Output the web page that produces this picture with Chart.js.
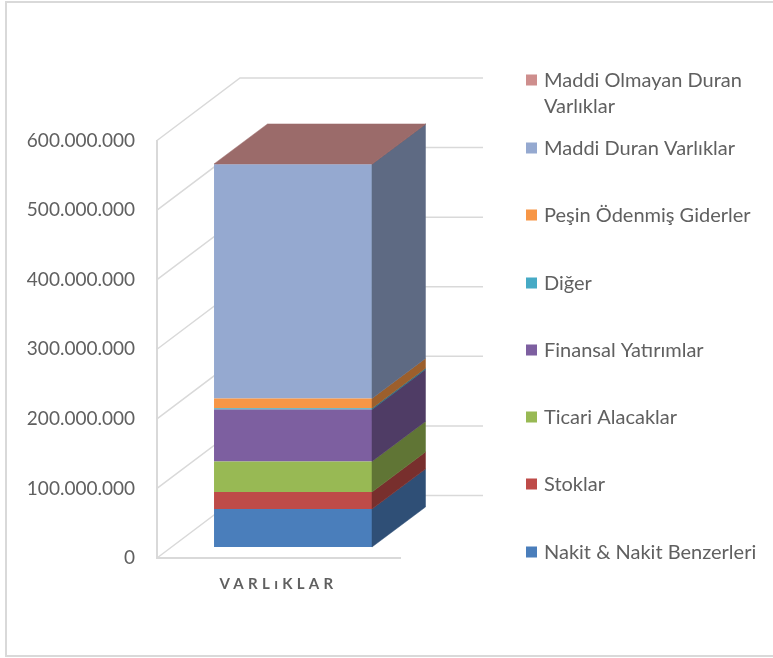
<!DOCTYPE html>
<html>
<head>
<meta charset="utf-8">
<title>Varlıklar</title>
<script src="https://cdn.jsdelivr.net/npm/chart.js@4/dist/chart.umd.min.js"></script>
<style>
    html, body { margin: 0; padding: 0; background: #fff; }
    #wrap { width: 773px; height: 658px; }
</style>
</head>
<body>
<div id="wrap"><canvas id="chart" width="773" height="658"></canvas></div>
<script>
const categories = ["VARLıKLAR"];
const seriesNames = ["Nakit & Nakit Benzerleri", "Stoklar", "Ticari Alacaklar", "Finansal Yatırımlar", "Diğer", "Peşin Ödenmiş Giderler", "Maddi Duran Varlıklar", "Maddi Olmayan Duran Varlıklar"];
const nakit = [54500000];
const stoklar = [24500000];
const ticari = [44000000];
const finansal = [74500000];
const diger = [2000000];
const pesin = [14000000];
const maddi = [336500000];
const maddiOlmayan = [500000];
const seriesValues = [nakit, stoklar, ticari, finansal, diger, pesin, maddi, maddiOlmayan];
const seriesColors = ["#4a7ebb", "#be4b48", "#98b954", "#7d5fa0", "#46aac5", "#f79646", "#95a9d0", "#ce8e8d"];

//coulers and 3d depth
const textColor = "#606060";
const wallColor = "#d9d9d9";
const wallDepth = { x: 83, y: -62.5 };
const barShift = { x: 14.5, y: -11 };
const barDepth = { x: 53.5, y: -40 };

function shade(hex, f) {
    const n = parseInt(hex.slice(1), 16);
    const r = Math.round((n >> 16) * f);
    const g = Math.round(((n >> 8) & 255) * f);
    const b = Math.round((n & 255) * f);
    return "rgb(" + r + "," + g + "," + b + ")";
}

function poly(ctx, pts, color) {
    ctx.beginPath();
    ctx.moveTo(pts[0][0], pts[0][1]);
    for (let i = 1; i < pts.length; i++) {
        ctx.lineTo(pts[i][0], pts[i][1]);
    }
    ctx.closePath();
    ctx.fillStyle = color;
    ctx.fill();
    ctx.strokeStyle = color;
    ctx.lineWidth = 0.5;
    ctx.stroke();
}

const box3d = {
    id: "box3d",
    beforeDraw(chart) {
        //frame, open on the right side
        const ctx = chart.ctx;
        ctx.save();
        ctx.strokeStyle = wallColor;
        ctx.lineWidth = 2;
        ctx.beginPath();
        ctx.moveTo(773, 2);
        ctx.lineTo(6, 2);
        ctx.lineTo(6, 656);
        ctx.lineTo(773, 656);
        ctx.stroke();
        ctx.restore();
    },
    beforeDatasetsDraw(chart) {
        const ctx = chart.ctx;
        const yScale = chart.scales.y;
        const a = chart.chartArea;
        ctx.save();
        ctx.strokeStyle = wallColor;
        ctx.lineWidth = 1.5;
        yScale.ticks.forEach(function (t) {
            const y = yScale.getPixelForValue(t.value);
            ctx.beginPath();
            ctx.moveTo(a.left, y);
            ctx.lineTo(a.left + wallDepth.x, y + wallDepth.y);
            ctx.lineTo(a.right + wallDepth.x, y + wallDepth.y);
            ctx.stroke();
        });
        ctx.restore();
        ctx.save();
        ctx.translate(barShift.x, barShift.y);
    },
    afterDatasetsDraw(chart) {
        const ctx = chart.ctx;
        const last = chart.data.datasets.length - 1;
        chart.data.datasets.forEach(function (ds, i) {
            const bar = chart.getDatasetMeta(i).data[0];
            const r = bar.x + bar.width / 2;
            const l = bar.x - bar.width / 2;
            poly(ctx, [[r, bar.y], [r + barDepth.x, bar.y + barDepth.y], [r + barDepth.x, bar.base + barDepth.y], [r, bar.base]], shade(ds.backgroundColor, 0.63));
            if (i === last) {
                poly(ctx, [[l, bar.y], [l + barDepth.x, bar.y + barDepth.y], [r + barDepth.x, bar.y + barDepth.y], [r, bar.y]], shade(ds.backgroundColor, 0.75));
            }
        });
        ctx.restore();
        //x tick is drawn after this (ticks z 1), needs the wide letters
        ctx.letterSpacing = "4.3px";
    },
    afterDraw(chart) {
        const ctx = chart.ctx;
        ctx.letterSpacing = "0px";
        ctx.save();
        ctx.font = "20px Lato";
        ctx.textBaseline = "middle";
        const rows = [552, 484, 417, 350, 283, 215, 148, 80];
        chart.data.datasets.forEach(function (ds, i) {
            ctx.fillStyle = ds.backgroundColor;
            ctx.fillRect(526, rows[i] - 5.5, 11, 11);
            ctx.fillStyle = textColor;
            if (i === 7) {
                ctx.fillText("Maddi Olmayan Duran", 544, rows[i] + 1);
                ctx.fillText("Varlıklar", 544, rows[i] + 27);
            } else {
                ctx.fillText(ds.label, 544, rows[i] + 1);
            }
        });
        ctx.restore();
    }
};

const datasets = seriesNames.map(function (name, i) {
    return {
        label: name,
        data: seriesValues[i],
        backgroundColor: seriesColors[i],
        barPercentage: 0.65,
        categoryPercentage: 1
    };
});

new Chart(document.getElementById("chart").getContext("2d"), {
    type: "bar",
    data: { labels: categories, datasets: datasets },
    plugins: [box3d],
    options: {
        responsive: false,
        animation: false,
        layout: { padding: { left: 0, right: 373, top: 140.5, bottom: 0 } },
        plugins: { legend: { display: false }, tooltip: { enabled: false } },
        scales: {
            x: {
                stacked: true,
                afterFit(scale) { scale.height = 100; },
                grid: { display: false },
                border: { color: wallColor, width: 2 },
                ticks: { z: 1, color: textColor, padding: 9, font: { family: "Lato", size: 15, weight: "bold" } }
            },
            y: {
                stacked: true,
                min: 0,
                max: 600000000,
                afterFit(scale) { scale.width = 157; },
                grid: { display: false },
                border: { color: wallColor, width: 2 },
                ticks: {
                    stepSize: 100000000,
                    color: textColor,
                    padding: 14,
                    font: { family: "Lato", size: 19 },
                    callback: function (v) { return v.toLocaleString("de-DE"); }
                }
            }
        }
    }
});
</script>
</body>
</html>
